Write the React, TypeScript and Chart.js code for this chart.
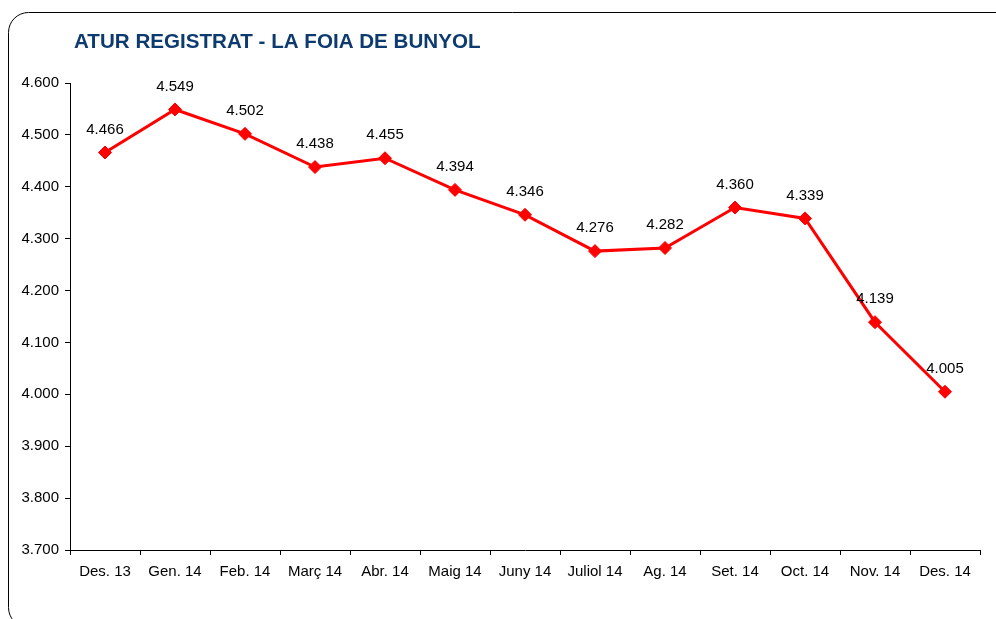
import React, { useEffect, useRef } from "react";
import { Chart, registerables } from "chart.js";

Chart.register(...registerables);

const title = "ATUR REGISTRAT - LA FOIA DE BUNYOL";
const categories = [
  "Des. 13", "Gen. 14", "Feb. 14", "Març 14", "Abr. 14", "Maig 14", "Juny 14",
  "Juliol 14", "Ag. 14", "Set. 14", "Oct. 14", "Nov. 14", "Des. 14",
];
const values = [4466, 4549, 4502, 4438, 4455, 4394, 4346, 4276, 4282, 4360, 4339, 4139, 4005];
const yMin = 3700;
const yMax = 4600;
const yStep = 100;

const fmt = (v: number) => {
  const s = Math.round(v).toString();
  return s.replace(/\B(?=(\d{3})+(?!\d))/g, ".");
};

const FONT = "'Liberation Sans', Arial, sans-serif";

const framePlugin = {
  id: "frame",
  beforeDraw(chart: any) {
    const ctx = chart.ctx;
    ctx.save();
    ctx.fillStyle = "#ffffff";
    ctx.fillRect(0, 0, chart.width, chart.height);
    ctx.strokeStyle = "#000000";
    ctx.lineWidth = 1;
    ctx.beginPath();
    ctx.roundRect(8.5, 12.5, 1100, 615, 20);
    ctx.stroke();
    ctx.fillStyle = "#0E3B6F";
    ctx.font = `bold 20.6px ${FONT}`;
    ctx.textBaseline = "alphabetic";
    ctx.textAlign = "left";
    ctx.fillText(title, 74, 48);
    ctx.restore();
  },
};

const labelPlugin = {
  id: "pointLabels",
  afterDatasetsDraw(chart: any) {
    const ctx = chart.ctx;
    const meta = chart.getDatasetMeta(0);
    ctx.save();
    ctx.fillStyle = "#000000";
    ctx.font = `15px ${FONT}`;
    ctx.textAlign = "center";
    ctx.textBaseline = "middle";
    meta.data.forEach((pt: any, i: number) => {
      ctx.fillText(fmt(values[i]), pt.x, pt.y - 23);
    });
    ctx.restore();
  },
};

export default function App() {
  const ref = useRef<HTMLCanvasElement>(null);
  useEffect(() => {
    if (!ref.current) return;
    const chart = new Chart(ref.current, {
      type: "line",
      data: {
        labels: categories,
        datasets: [
          {
            data: values,
            borderColor: "#FF0000",
            backgroundColor: "#FF0000",
            borderWidth: 3,
            pointStyle: "rectRot",
            pointRadius: 6.5,
            pointHoverRadius: 6.5,
            pointBackgroundColor: "#FF0000",
            pointBorderColor: "#FF0000",
            pointBorderWidth: 1,
            tension: 0,
          },
        ],
      },
      options: {
        responsive: false,
        animation: false,
        devicePixelRatio: 1,
        layout: { padding: { left: 0, right: 16, top: 83, bottom: 29 } },
        plugins: {
          legend: { display: false },
          title: { display: false },
          tooltip: { enabled: false },
        },
        scales: {
          x: {
            offset: true,
            grid: {
              offset: true,
              drawOnChartArea: false,
              drawTicks: true,
              tickLength: 5,
              color: "#000000",
            },
            border: { display: true, color: "#000000", width: 1 },
            ticks: {
              color: "#000000",
              font: { family: FONT, size: 15 },
              padding: 8,
              maxRotation: 0,
              autoSkip: false,
            },
            afterFit: (s: any) => {
              s.height = 40;
            },
          },
          y: {
            min: yMin,
            max: yMax,
            grid: {
              drawOnChartArea: false,
              drawTicks: true,
              tickLength: 5,
              color: "#000000",
            },
            border: { display: true, color: "#000000", width: 1 },
            ticks: {
              stepSize: yStep,
              color: "#000000",
              font: { family: FONT, size: 15 },
              padding: 6,
              callback: (v: any) => fmt(Number(v)),
            },
            afterFit: (s: any) => {
              s.width = 70;
            },
          },
        },
      },
      plugins: [framePlugin, labelPlugin],
    });
    return () => chart.destroy();
  }, []);
  return (
    <div style={{ position: "absolute", left: 0, top: 0, width: 996, height: 619 }}>
      <canvas ref={ref} width={996} height={619} />
    </div>
  );
}
